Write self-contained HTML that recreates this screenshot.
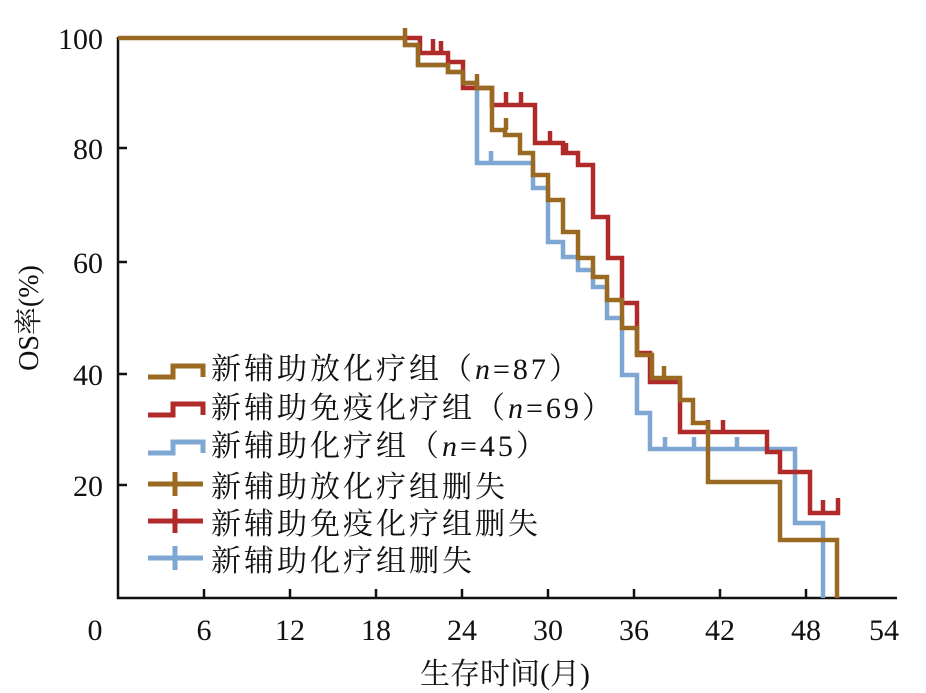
<!DOCTYPE html><html><head><meta charset="utf-8"><style>body{margin:0;background:#fff}svg{display:block}</style></head><body>
<svg width="926" height="693" xmlns="http://www.w3.org/2000/svg">
<g font-family="Liberation Serif, Noto Serif CJK SC, serif" font-size="30" fill="#111">
<g text-anchor="end"><text x="103" y="49">100</text><text x="103" y="159">80</text><text x="103" y="273">60</text><text x="103" y="385">40</text><text x="103" y="496">20</text></g>
<g text-anchor="middle"><text x="95" y="640">0</text><text x="204" y="640">6</text><text x="290" y="640">12</text><text x="376" y="640">18</text><text x="462" y="640">24</text><text x="548" y="640">30</text><text x="634" y="640">36</text><text x="720" y="640">42</text><text x="806" y="640">48</text><text x="884" y="640">54</text>
<text x="505" y="684">生存时间(月)</text></g>
<text transform="translate(38,318) rotate(-90)" text-anchor="middle" font-size="28">OS率(%)</text>
</g>
<g stroke="#111" stroke-width="2.5" fill="none">
<path d="M118,37V598H897"/>
<path d="M204,598v-9M290,598v-9M376,598v-9M462,598v-9M548,598v-9M634,598v-9M720,598v-9M806,598v-9M118,148h9M118,262h9M118,374h9M118,485h9"/>
</g>
<g fill="none" stroke-width="4.5">
<path stroke="#7fa7d4" d="M405,38V45H418V65H448V72H463V83H477V163H533V188H548V242H563V257H578V270H593V287H607V318H622V375H637V413H650V449H795V523H823V598 M491,163v-12 M665,449v-12 M694,449v-12 M737,449v-12"/>
<path stroke="#b02a2a" d="M405,38H420V53H448V62H463V88H492V105H535V143H563V153H578V165H593V217H608V258H622V303H637V353H650V382H680V432H767V452H780V472H810V513H838V498 M433,53v-14 M441,53v-12 M506,105v-13 M521,105v-13 M550,143v-12 M566,153v-10 M708,432v-12 M723,432v-12 M823,513v-13"/>
<path stroke="#9a6a22" d="M118,38H405V45H418V65H448V72H463V83H477V88H492V130H505V135H520V153H533V175H548V200H563V232H578V258H593V277H607V300H622V328H637V355H652V378H680V400H693V423H708V482H780V540H837V598 M405,38v-10 M477,83v-9 M506,130v-12 M664,378v-12"/>
</g>
<g fill="none" stroke-width="5">
<path stroke="#9a6a22" d="M148,377H173V366H203V377"/>
<path stroke="#b02a2a" d="M148,415H173V404H203V415"/>
<path stroke="#7fa7d4" d="M148,453H173V442H203V453"/>
<path stroke="#9a6a22" d="M148,484H203M175,484v-12v24"/>
<path stroke="#b02a2a" d="M148,521H203M175,521v-12v24"/>
<path stroke="#7fa7d4" d="M148,558H203M175,558v-12v24"/>
</g>
<g font-family="Liberation Serif, Noto Serif CJK SC, serif" font-size="30" fill="#111" letter-spacing="3">
<text x="211" y="379">新辅助放化疗组（<tspan font-style="italic">n</tspan>=87）</text>
<text x="211" y="418">新辅助免疫化疗组（<tspan font-style="italic">n</tspan>=69）</text>
<text x="211" y="456">新辅助化疗组（<tspan font-style="italic">n</tspan>=45）</text>
<text x="211" y="497">新辅助放化疗组删失</text>
<text x="211" y="534">新辅助免疫化疗组删失</text>
<text x="211" y="571">新辅助化疗组删失</text>
</g>
</svg></body></html>
